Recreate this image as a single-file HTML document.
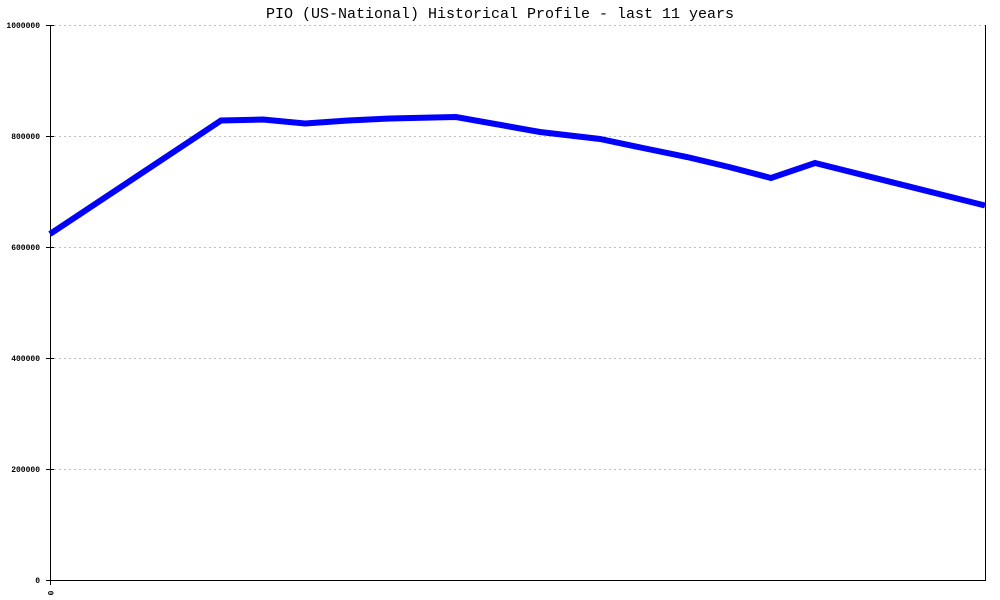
<!DOCTYPE html>
<html><head><meta charset="utf-8"><style>
html,body{margin:0;padding:0;background:#fff;}
svg{display:block;}
</style></head><body>
<svg width="1000" height="600" xmlns="http://www.w3.org/2000/svg">
<rect width="1000" height="600" fill="#fff"/>
<text x="500" y="18" text-anchor="middle" font-family="Liberation Mono, monospace" font-size="15" fill="#000">PIO (US-National) Historical Profile - last 11 years</text>
<g stroke="#c0c0c0" stroke-width="1" stroke-dasharray="2,3">
<line x1="54" y1="25.5" x2="985" y2="25.5"/>
<line x1="54" y1="136.5" x2="985" y2="136.5"/>
<line x1="54" y1="247.5" x2="985" y2="247.5"/>
<line x1="54" y1="358.5" x2="985" y2="358.5"/>
<line x1="54" y1="469.5" x2="985" y2="469.5"/>
</g>
<g stroke="#000" stroke-width="1">
<line x1="50.5" y1="25" x2="50.5" y2="585"/>
<line x1="50" y1="580.5" x2="986" y2="580.5"/>
<line x1="985.5" y1="25" x2="985.5" y2="581"/>
<line x1="46" y1="25.5" x2="54" y2="25.5"/>
<line x1="46" y1="136.5" x2="54" y2="136.5"/>
<line x1="46" y1="247.5" x2="54" y2="247.5"/>
<line x1="46" y1="358.5" x2="54" y2="358.5"/>
<line x1="46" y1="469.5" x2="54" y2="469.5"/>
<line x1="46" y1="580.5" x2="54" y2="580.5"/>
</g>
<g font-family="Liberation Mono, monospace" font-size="8" font-weight="bold" fill="#000" text-anchor="end">
<text x="40" y="28">1000000</text>
<text x="40" y="139">800000</text>
<text x="40" y="250">600000</text>
<text x="40" y="361">400000</text>
<text x="40" y="472">200000</text>
<text x="40" y="583">0</text>
</g>
<text x="0" y="0" font-family="Liberation Mono, monospace" font-size="8" font-weight="bold" fill="#000" text-anchor="middle" transform="translate(48,593) rotate(90)">0</text>
<polyline fill="none" stroke="#0000ff" stroke-width="6" stroke-linejoin="miter"
points="50,234 221,120.5 263,119.5 305,123.5 348,120.5 390,118.5 433,117.5 456,117 540,132 600,139 643,148 687,157 729,167 771,178 815,163 985,205.5"/>
</svg>
</body></html>
